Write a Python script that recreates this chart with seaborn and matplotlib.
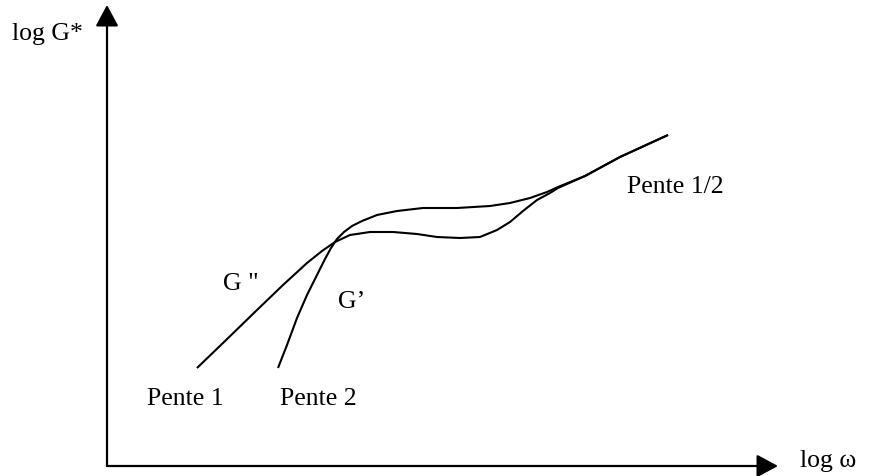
import matplotlib
matplotlib.use("Agg")
import matplotlib.pyplot as plt
import seaborn as sns
import pandas as pd

# Schematic rheology curves: log G'' and log G' versus log omega
g2_logw = [0.90, 1.16, 1.50, 1.76, 2.00, 2.15, 2.28, 2.43, 2.63, 2.86, 3.10,
           3.30, 3.53, 3.73, 3.90, 4.03, 4.16, 4.30, 4.43, 4.51, 4.78, 5.13, 5.61]
g2_logG = [0.98, 1.23, 1.56, 1.81, 2.03, 2.15, 2.24, 2.31, 2.34, 2.34, 2.32,
           2.29, 2.28, 2.29, 2.36, 2.44, 2.55, 2.66, 2.73, 2.78, 2.90, 3.09, 3.31]

g1_logw = [1.71, 1.80, 1.90, 2.00, 2.10, 2.18, 2.24, 2.30, 2.37, 2.45, 2.55,
           2.70, 2.90, 3.16, 3.50, 3.83, 4.03, 4.23, 4.40, 4.51, 4.78, 5.13, 5.61]
g1_logG = [0.98, 1.21, 1.48, 1.71, 1.91, 2.07, 2.18, 2.27, 2.34, 2.40, 2.45,
           2.51, 2.55, 2.58, 2.58, 2.60, 2.63, 2.68, 2.74, 2.79, 2.90, 3.09, 3.31]

series_names = ["G''", "G'"]

df = pd.concat([
    pd.DataFrame({"logw": g2_logw, "logG": g2_logG, "curve": series_names[0]}),
    pd.DataFrame({"logw": g1_logw, "logG": g1_logG, "curve": series_names[1]}),
], ignore_index=True)

sns.set_theme(style="white")
plt.rcParams["font.family"] = ["Liberation Serif", "DejaVu Serif"]
plt.rcParams["text.color"] = "black"

fig = plt.figure(figsize=(8.72, 4.76), dpi=100)
ax = fig.add_axes([0, 0, 1, 1])

sns.lineplot(data=df, x="logw", y="logG", hue="curve", estimator=None,
             sort=False, palette=["black", "black"], legend=False, lw=1.5, ax=ax)
for ln in ax.get_lines():
    ln.set_solid_joinstyle("round")
    ln.set_solid_capstyle("butt")

ax.set_xlim(-1.07, 7.65)
ax.set_ylim(-0.10, 4.66)
ax.axis("off")

# Axes drawn as arrows from the origin
arrow = dict(arrowstyle="-|>,head_length=0.65,head_width=0.35", lw=1.6,
             color="black", shrinkA=0, shrinkB=0, mutation_scale=20)
ax.annotate("", xy=(6.71, 0.0), xytext=(0.0, 0.0), arrowprops=arrow)
ax.annotate("", xy=(0.0, 4.61), xytext=(0.0, 0.0), arrowprops=arrow)

fs = 18.5
ax.text(-0.95, 4.26, "log G*", fontsize=fs, ha="left", va="baseline")
ax.text(6.93, -0.01, "log ω", fontsize=fs, ha="left", va="baseline")
ax.text(0.40, 0.61, "Pente 1", fontsize=fs, ha="left", va="baseline")
ax.text(1.73, 0.61, "Pente 2", fontsize=fs, ha="left", va="baseline")
ax.text(5.20, 2.73, "Pente 1/2", fontsize=fs, ha="left", va="baseline")
ax.text(1.16, 1.76, 'G "', fontsize=fs, ha="left", va="baseline")
ax.text(2.31, 1.58, "G’", fontsize=fs, ha="left", va="baseline")

fig.savefig("out.png", dpi=100, facecolor="white")
